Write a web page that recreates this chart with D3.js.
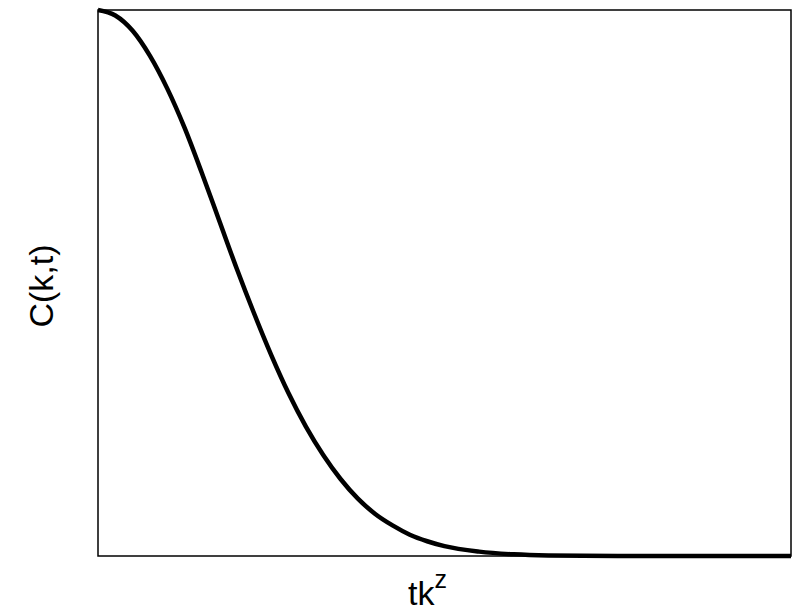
<!DOCTYPE html>
<html>
<head>
<meta charset="utf-8">
<script src="https://cdn.jsdelivr.net/npm/d3@7.9.0/dist/d3.min.js"></script>
<style>
  body { margin: 0; background: #fff; }
  text { font-family: Arial, "Liberation Sans", sans-serif; fill: #000; }
</style>
</head>
<body>
<div id="chart"></div>
<script>
// values
const tkz = [0, 0.1, 0.2, 0.3, 0.4, 0.5, 0.6, 0.7, 0.8, 0.9, 1.0, 1.1, 1.2, 1.3, 1.4, 1.5, 1.6, 1.7, 1.8, 1.9, 2.0, 2.2, 2.4, 2.6, 3.0, 3.5, 4.0];
const corr = [1.0, 0.99, 0.962, 0.916, 0.856, 0.784, 0.701, 0.614, 0.527, 0.445, 0.368, 0.298, 0.237, 0.185, 0.141, 0.105, 0.077, 0.056, 0.039, 0.027, 0.018, 0.008, 0.003, 0.001, 0.0, 0.0, 0.0];

const width = 795, height = 612;
const margin = { top: 10, right: 4, bottom: 56, left: 98 };

const svg = d3.select('#chart')
  .append('svg')
  .attr('width', width)
  .attr('height', height);

const x = d3.scaleLinear().domain([0, 4]).range([margin.left, width - margin.right]);
const y = d3.scaleLinear().domain([0, 1]).range([height - margin.bottom, margin.top]);

const data = tkz.map((d, i) => ({ x: d, y: corr[i] }));

const line = d3.line()
  .x(d => x(d.x))
  .y(d => y(d.y))
  .curve(d3.curveMonotoneX);

svg.append('path')
  .datum(data)
  .attr('d', line)
  .attr('fill', 'none')
  .attr('stroke', '#000')
  .attr('stroke-width', 4.5);

// frame
svg.append('rect')
  .attr('x', x(0))
  .attr('y', y(1))
  .attr('width', x(4) - x(0))
  .attr('height', y(0) - y(1))
  .attr('fill', 'none')
  .attr('stroke', '#000')
  .attr('stroke-width', 1.5);

// axis titles
const xt = svg.append('text')
  .attr('x', 408)
  .attr('y', 605)
  .attr('font-size', 34);
xt.append('tspan').text('tk');
xt.append('tspan')
  .attr('dy', -17)
  .attr('font-size', 25)
  .text('z');

svg.append('text')
  .attr('transform', 'translate(53,286) rotate(-90)')
  .attr('text-anchor', 'middle')
  .attr('font-size', 34)
  .text('C(k,t)');
</script>
</body>
</html>
